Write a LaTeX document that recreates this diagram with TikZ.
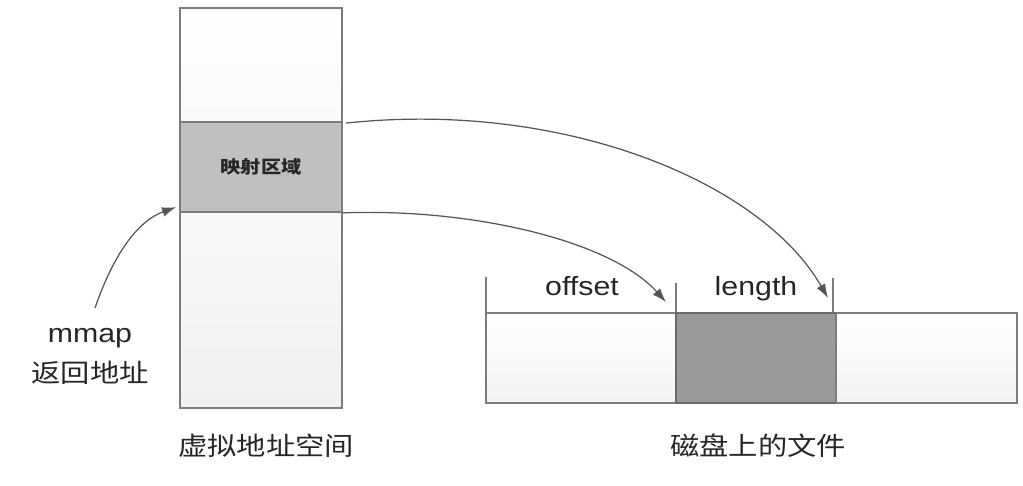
\documentclass[tikz,border=0pt]{standalone}
\usepackage{fontspec}
\setmainfont{Liberation Sans}[FakeStretch=1.15]
\newfontfamily\cjk{Noto Sans CJK SC}[FakeStretch=1.15]
\usetikzlibrary{arrows.meta}
\definecolor{edgegray}{HTML}{7C7C7C}
\definecolor{darkedge}{HTML}{6A6A6A}
\definecolor{mapgray}{HTML}{C0C0C0}
\definecolor{lengray}{HTML}{9A9A9A}
\definecolor{arrowgray}{HTML}{555555}

\begin{document}
\begin{tikzpicture}[x=0.02cm,y=-0.02cm,
  box/.style={draw=edgegray, line width=1pt, inner sep=0pt},
  edgetick/.style={draw=edgegray, line width=0.8pt},
  link/.style={draw=arrowgray, line width=0.7pt, -{Latex[length=8pt,width=5.5pt]}},
  lbl/.style={text=black!85, font=\fontsize{15}{18}\selectfont, inner sep=0pt},
  cjklbl/.style={text=black!85, font=\cjk\fontsize{14.5}{17}\selectfont, inner sep=0pt}]
\useasboundingbox (0,0) rectangle (1023,486);

%%%%%%%%%%%%%%%%%%%% virtual address space %%%%%%%%%%%%%%%%%%%%
\node[box, top color=white, bottom color=gray!4, minimum width=3.24cm, minimum height=2.28cm] (vtop) at (261,65) {};
\node[box, fill=mapgray, minimum width=3.24cm, minimum height=1.8cm,
      text=black!85, font=\cjk\bfseries\fontsize{10}{12}\selectfont] (vmap) at (261,167) {映射区域};
\node[box, top color=gray!5, bottom color=gray!12, minimum width=3.24cm, minimum height=3.92cm] (vlow) at (261,310) {};
\node[cjklbl] (vname) at (266,446) {虚拟地址空间};

% mmap return value
\node[lbl] (mmap) at (90,338) {mmap};
\node[cjklbl] (ret) at (90,373) {返回地址};
\coordinate (mstart) at (95,308);
\draw[link] (mstart) .. controls (115,250) and (140,220) .. ([shift={(-3,-4)}]vlow.north west);

%%%%%%%%%%%%%%%%%%%% file on disk %%%%%%%%%%%%%%%%%%%%
\node[box, top color=white, bottom color=gray!10, minimum width=3.8cm, minimum height=1.8cm] (fhead) at (581,358) {};
\node[box, fill=lengray, draw=darkedge, line width=1.2pt, minimum width=3.2cm, minimum height=1.8cm] (fpart) at (756,358) {};
\node[box, top color=white, bottom color=gray!10, minimum width=3.62cm, minimum height=1.8cm] (ftail) at (926.5,358) {};
\node[cjklbl] (fname) at (758,446) {磁盘上的文件};

\coordinate (t1) at (486,277); \coordinate (t2) at (676,283); \coordinate (t3) at (833,278);
\draw[edgetick] (t1) -- (t1 |- fhead.north);
\draw[edgetick] (t2) -- (t2 |- fhead.north);
\draw[edgetick] (t3) -- (t3 |- fpart.north);

\node[lbl, anchor=base] (offset) at (582,295) {offset};
\node[lbl, anchor=base] (length) at (756,295) {length};

% mapping arrows
\coordinate (toff) at (666,302); \coordinate (tlen) at (828,298);
\draw[link] ([shift={(3,2)}]vmap.north east) .. controls (560,100) and (760,180) .. (tlen);
\draw[link] (vmap.south east) .. controls (470,208) and (610,240) .. (toff);

\end{tikzpicture}
\end{document}
